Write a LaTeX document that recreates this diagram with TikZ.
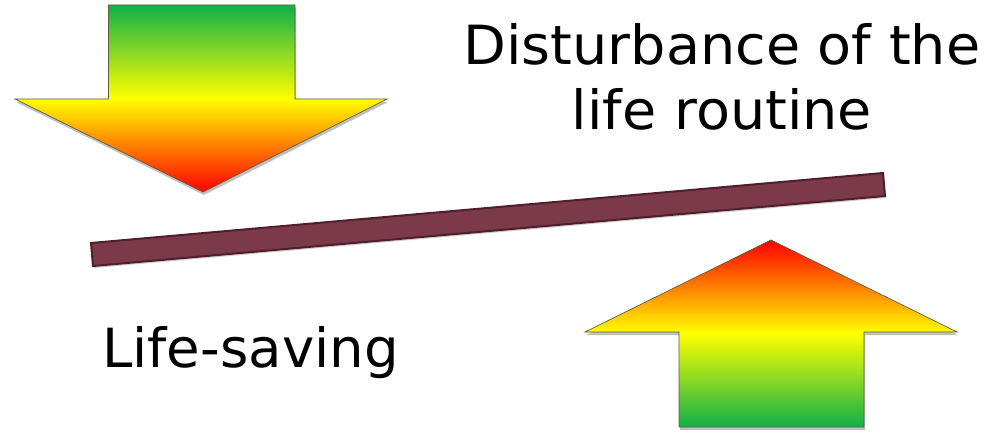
\documentclass[tikz,border=0pt]{standalone}
\usepackage{fontspec}
\setmainfont{DejaVu Sans}
\usetikzlibrary{shadows}
\definecolor{arrgreen}{RGB}{16,176,74}
\definecolor{arryellow}{RGB}{255,255,0}
\definecolor{arrred}{RGB}{255,0,0}
\definecolor{barfill}{RGB}{123,58,74}
\definecolor{bardraw}{RGB}{80,30,45}
\definecolor{arredge}{RGB}{95,95,60}
\tikzset{
  bigarrow/.style={draw=arredge, line width=0.7pt, line join=miter,
    drop shadow={shadow xshift=1pt, shadow yshift=-3pt, opacity=0.25, fill=black}},
  downarrow/.style={bigarrow, top color=arrgreen, bottom color=arrred, middle color=arryellow},
  uparrow/.style={bigarrow, top color=arrred, bottom color=arrgreen, middle color=arryellow},
  lever/.style={draw=bardraw, line width=2pt, fill=barfill,
    drop shadow={shadow xshift=1pt, shadow yshift=-2pt, opacity=0.2, fill=black}},
  bigtext/.style={font=\fontsize{54}{62}\selectfont, inner sep=0pt, anchor=base}
}
\begin{document}
\begin{tikzpicture}[x=1pt,y=-1pt]
\useasboundingbox (0,0) rectangle (999,433);
% left arrow pointing down
\path[downarrow] (108.5,5) -- (295,5) -- (295,99) -- (387,99) -- (203,192)
  -- (15,99) -- (108.5,99) -- cycle;
% right arrow pointing up
\path[uparrow] (771,240) -- (957,332) -- (864,332) -- (864,427) -- (679,427)
  -- (679,332) -- (585,332) -- cycle;
% lever bar
\path[lever] (91,243) -- (883,173) -- (885,196) -- (93,266) -- cycle;
% texts
\node[bigtext, xscale=1.03, transform shape] (dist1) at (722,65) {Disturbance of the};
\node[bigtext, xscale=1.03, transform shape] (dist2) at (722,130) {life routine};
\node[bigtext, anchor=base west, xscale=1.01, transform shape] (life) at (102,367) {Life-saving};
\end{tikzpicture}
\end{document}
